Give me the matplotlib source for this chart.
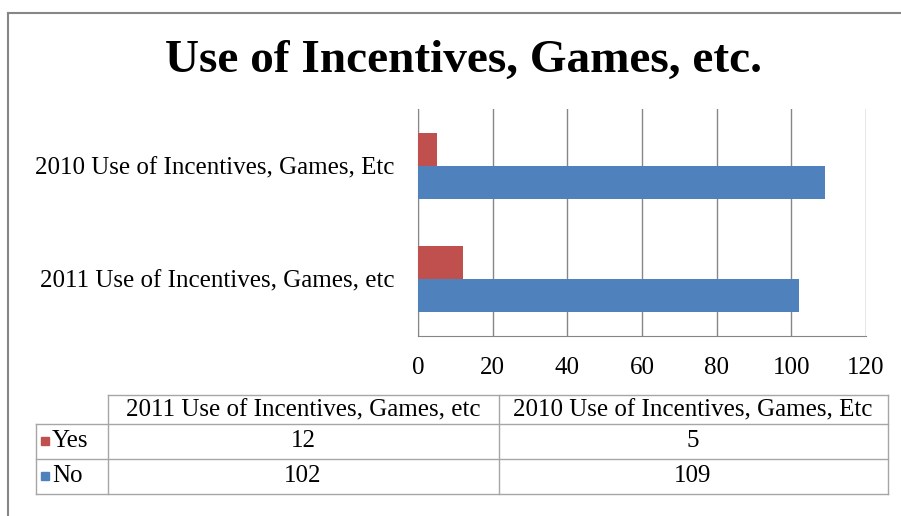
import matplotlib.pyplot as plt
from matplotlib.lines import Line2D
from matplotlib.patches import Rectangle
import numpy as np

plt.rcParams['font.family'] = ['Liberation Serif', 'DejaVu Serif']

# data
categories = ['2011 Use of Incentives, Games, etc', '2010 Use of Incentives, Games, Etc']
series = ['Yes', 'No']
yes_vals = [12, 5]
no_vals = [102, 109]
colors = {'Yes': '#C0504D', 'No': '#4F81BD'}
xticks = [0, 20, 40, 60, 80, 100, 120]

W, H = 901, 516
fig = plt.figure(figsize=(W / 100, H / 100), dpi=100)

def px(x, y):
    return x / W, 1 - y / H

def hline(x0, x1, y, c='#A6A6A6', lw=1):
    fig.add_artist(Line2D([x0 / W, x1 / W], [1 - y / H, 1 - y / H], color=c, lw=lw))

def vline(x, y0, y1, c='#A6A6A6', lw=1):
    fig.add_artist(Line2D([x / W, x / W], [1 - y0 / H, 1 - y1 / H], color=c, lw=lw))

# outer chart border
hline(8, W, 13, c='#868686', lw=1.5)
vline(8, 13, H, c='#868686', lw=1.5)

fig.text(*px(463, 61), 'Use of Incentives, Games, etc.', ha='center', va='center',
         fontsize=34, fontweight='bold')

ax = fig.add_axes([418 / W, 1 - 336 / H, 448 / W, 227 / H])
y = np.arange(len(categories))
h = 0.29
ax.barh(y + h / 2, yes_vals, height=h, color=colors['Yes'], zorder=3)
ax.barh(y - h / 2, no_vals, height=h, color=colors['No'], zorder=3)
ax.set_xlim(0, 120)
ax.set_ylim(-0.5, 1.5)
ax.set_xticks(xticks)
ax.set_yticks(y)
ax.set_yticklabels(categories, fontsize=18)
ax.tick_params(axis='x', labelsize=18, length=0, pad=15)
ax.tick_params(axis='y', length=0, pad=17)
ax.grid(axis='x', color='#868686', lw=1, zorder=0)
for s in ['top', 'right']:
    ax.spines[s].set_visible(False)
for s in ['left', 'bottom']:
    ax.spines[s].set_color('#868686')

# data table
hline(108, 888, 395)
hline(36, 888, 424)
hline(36, 888, 459)
hline(36, 888, 494)
vline(108, 395, 494)
vline(499, 395, 494)
vline(888, 395, 494)
vline(36, 424, 494)

col_x = [303, 693]
for cx, cat in zip(col_x, categories):
    fig.text(*px(cx, 410), cat, ha='center', va='center', fontsize=18)
row_y = [441, 476]
for ry, name, vals in zip(row_y, series, [yes_vals, no_vals]):
    fig.add_artist(Rectangle(px(41, ry + 4), 8 / W, 8 / H, color=colors[name],
                             transform=fig.transFigure))
    fig.text(*px(52, ry), name, ha='left', va='center', fontsize=18)
    for cx, v in zip(col_x, vals):
        fig.text(*px(cx, ry), str(v), ha='center', va='center', fontsize=18)

fig.savefig('out.png', dpi=100)
